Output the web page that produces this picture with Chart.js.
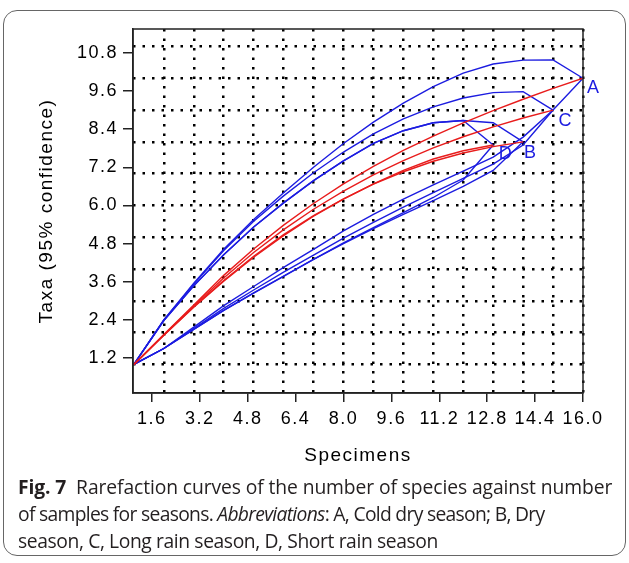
<!DOCTYPE html>
<html>
<head>
<meta charset="utf-8">
<script src="https://cdn.jsdelivr.net/npm/chart.js@4.4.0/dist/chart.umd.min.js"></script>
<style>
  html, body { margin: 0; padding: 0; background: #fff; }
  #wrap { position: relative; width: 629px; height: 563px; overflow: hidden; }
  #frame { position: absolute; left: 3px; top: 10px; width: 623px; height: 546px; border: 1.5px solid #666; border-radius: 14px; box-sizing: border-box; }
  #chart { position: absolute; left: 0; top: 0; }
  #caption { position: absolute; left: 18px; top: 473px; font-family: "Open Sans"; font-size: 19.3px; line-height: 27px; color: #231f20; white-space: nowrap; }
  #caption div { letter-spacing: -0.4px; }
  #caption .l1 { letter-spacing: -0.1px; }
  #caption .l2 { letter-spacing: -0.7px; }
  #caption b { font-weight: 700; }
</style>
</head>
<body>
<div id="wrap">
  <div id="frame"></div>
  <canvas id="chart" width="629" height="563"></canvas>
  <div id="caption">
    <div class="l1"><b>Fig. 7</b>&nbsp; Rarefaction curves of the number of species against number</div>
    <div class="l2">of samples for seasons. <i>Abbreviations</i>: A, Cold dry season; B, Dry</div>
    <div class="l3">season, C, Long rain season, D, Short rain season</div>
  </div>
</div>
<script>
// number of specimens (x)
const specimens = [1, 2, 3, 4, 5, 6, 7, 8, 9, 10, 11, 12, 13, 14, 15, 16];
const xTicks = [1.6, 3.2, 4.8, 6.4, 8.0, 9.6, 11.2, 12.8, 14.4, 16.0];
const yTicks = [1.2, 2.4, 3.6, 4.8, 6.0, 7.2, 8.4, 9.6, 10.8];
const gridX = [2, 3, 4, 5, 6, 7, 8, 9, 10, 11, 12, 13, 14, 15, 16];
const gridY = [1, 2, 3, 4, 5, 6, 7, 8, 9, 10, 11];

// A, Cold dry season
const meanA  = [1, 1.94, 2.87, 3.8, 4.63, 5.38, 6.06, 6.68, 7.23, 7.73, 8.18, 8.6, 8.98, 9.34, 9.68, 10.0];
const upperA = [1, 2.4, 3.55, 4.62, 5.56, 6.4, 7.2, 7.95, 8.62, 9.22, 9.74, 10.16, 10.45, 10.57, 10.58, 10.0];
const lowerA = [1, 1.5, 2.17, 2.85, 3.45, 4.05, 4.62, 5.2, 5.72, 6.2, 6.65, 7.08, 7.52, 8.15, 9.0, 10.0];
// B, Dry season
const meanB  = [1, 1.92, 2.81, 3.64, 4.4, 5.08, 5.68, 6.21, 6.67, 7.06, 7.39, 7.65, 7.85, 8.0];
const upperB = [1, 2.38, 3.47, 4.45, 5.32, 6.08, 6.78, 7.4, 7.95, 8.35, 8.6, 8.67, 8.6, 8.0];
const lowerB = [1, 1.5, 2.1, 2.7, 3.24, 3.77, 4.3, 4.8, 5.27, 5.72, 6.15, 6.6, 7.1, 8.0];
// C, Long rain season
const meanC  = [1, 1.93, 2.84, 3.72, 4.52, 5.24, 5.88, 6.45, 6.96, 7.41, 7.81, 8.16, 8.47, 8.75, 9.0];
const upperC = [1, 2.4, 3.53, 4.58, 5.5, 6.3, 7.03, 7.68, 8.25, 8.72, 9.1, 9.38, 9.55, 9.58, 9.0];
const lowerC = [1, 1.5, 2.13, 2.76, 3.34, 3.9, 4.44, 4.97, 5.47, 5.95, 6.4, 6.85, 7.3, 7.9, 9.0];
// D, Short rain season
const meanD  = [1, 1.92, 2.8, 3.62, 4.37, 5.05, 5.66, 6.2, 6.68, 7.1, 7.46, 7.72, 7.9];
const upperD = [1, 2.38, 3.47, 4.45, 5.32, 6.08, 6.78, 7.4, 7.95, 8.35, 8.6, 8.67, 7.9];
const lowerD = [1, 1.5, 2.1, 2.7, 3.25, 3.78, 4.3, 4.82, 5.3, 5.77, 6.25, 6.8, 7.9];

const seasons = [
    {name: 'A', mean: meanA, upper: upperA, lower: lowerA},
    {name: 'B', mean: meanB, upper: upperB, lower: lowerB},
    {name: 'C', mean: meanC, upper: upperC, lower: lowerC},
    {name: 'D', mean: meanD, upper: upperD, lower: lowerD}
];

const BLUE = '#1c1ce0';
const RED = '#e81c1c';
const labelOffsets = {A: [10, 10], B: [7, 11], C: [12, 11], D: [12, 9]};

function points(values) {
    return values.map((v, i) => ({x: specimens[i], y: v}));
}

function line(label, values, color) {
    return {label: label, data: points(values), borderColor: color, borderWidth: 1.4,
            pointRadius: 0, tension: 0, fill: false};
}

const datasets = [];
seasons.forEach(s => datasets.push(line(s.name + ' mean', s.mean, RED)));
seasons.forEach(s => {
    datasets.push(line(s.name + ' upper', s.upper, BLUE));
    datasets.push(line(s.name + ' lower', s.lower, BLUE));
});

const endLabels = {
    id: 'endLabels',
    beforeDraw(chart) {
        // the old plot program spaces its axis text out a little
        chart.ctx.letterSpacing = '1.5px';
    },
    afterDraw(chart) {
        const ctx = chart.ctx;
        const a = chart.chartArea;
        ctx.save();
        ctx.letterSpacing = '0px';
        // plot box
        ctx.strokeStyle = '#222';
        ctx.lineWidth = 1.5;
        ctx.strokeRect(a.left, a.top, a.right - a.left, a.bottom - a.top);
        // season letters at the curve ends
        ctx.fillStyle = BLUE;
        ctx.font = '18px "Liberation Sans"';
        ctx.textAlign = 'center';
        ctx.textBaseline = 'middle';
        seasons.forEach(s => {
            const n = s.mean.length;
            const px = chart.scales.x.getPixelForValue(specimens[n - 1]);
            const py = chart.scales.y.getPixelForValue(s.mean[n - 1]);
            const off = labelOffsets[s.name];
            ctx.fillText(s.name, px + off[0], py + off[1]);
        });
        ctx.restore();
    }
};

const tickFont = {family: 'Liberation Sans', size: 18};
const titleFont = {family: 'Liberation Sans', size: 19};

new Chart(document.getElementById('chart').getContext('2d'), {
    type: 'line',
    data: {datasets: datasets},
    options: {
        responsive: false,
        animation: false,
        events: [],
        layout: {padding: {left: 0, top: 29, right: 46, bottom: 90}},
        plugins: {legend: {display: false}, tooltip: {enabled: false}},
        scales: {
            x: {
                type: 'linear', position: 'bottom', min: 0.97, max: 16,
                afterBuildTicks: s => { s.ticks = xTicks.map(v => ({value: v})); },
                afterFit: s => { s.height = 80; },
                ticks: {callback: v => v.toFixed(1), font: tickFont, color: '#000', padding: 6,
                        maxRotation: 0, autoSkip: false},
                grid: {drawOnChartArea: false, drawTicks: true, tickLength: 9, color: '#222', lineWidth: 1.5},
                border: {display: true, color: '#222', width: 1.5},
                title: {display: true, text: 'Specimens', font: titleFont, color: '#000',
                        padding: {top: 0, bottom: 6}}
            },
            y: {
                type: 'linear', position: 'left', min: 0.1, max: 11.55,
                afterBuildTicks: s => { s.ticks = yTicks.map(v => ({value: v})); },
                afterFit: s => { s.width = 133; },
                ticks: {callback: v => v.toFixed(1), font: tickFont, color: '#000', padding: 5, autoSkip: false},
                grid: {drawOnChartArea: false, drawTicks: true, tickLength: 10, color: '#222', lineWidth: 1.5},
                border: {display: true, color: '#222', width: 1.5},
                title: {display: true, text: 'Taxa (95% confidence)', font: titleFont, color: '#000',
                        padding: {top: 35, bottom: 0}}
            },
            xg: {
                type: 'linear', position: 'top', min: 0.97, max: 16,
                afterBuildTicks: s => { s.ticks = gridX.map(v => ({value: v})); },
                afterFit: s => { s.height = 0; },
                ticks: {display: false},
                grid: {drawTicks: false, color: '#000', lineWidth: 2.5},
                border: {display: false, dash: [2.5, 7]}
            },
            yg: {
                type: 'linear', position: 'right', min: 0.1, max: 11.55,
                afterBuildTicks: s => { s.ticks = gridY.map(v => ({value: v})); },
                afterFit: s => { s.width = 0; },
                ticks: {display: false},
                grid: {drawTicks: false, color: '#000', lineWidth: 2.5},
                border: {display: false, dash: [2.5, 7]}
            }
        }
    },
    plugins: [endLabels]
});
</script>
</body>
</html>
